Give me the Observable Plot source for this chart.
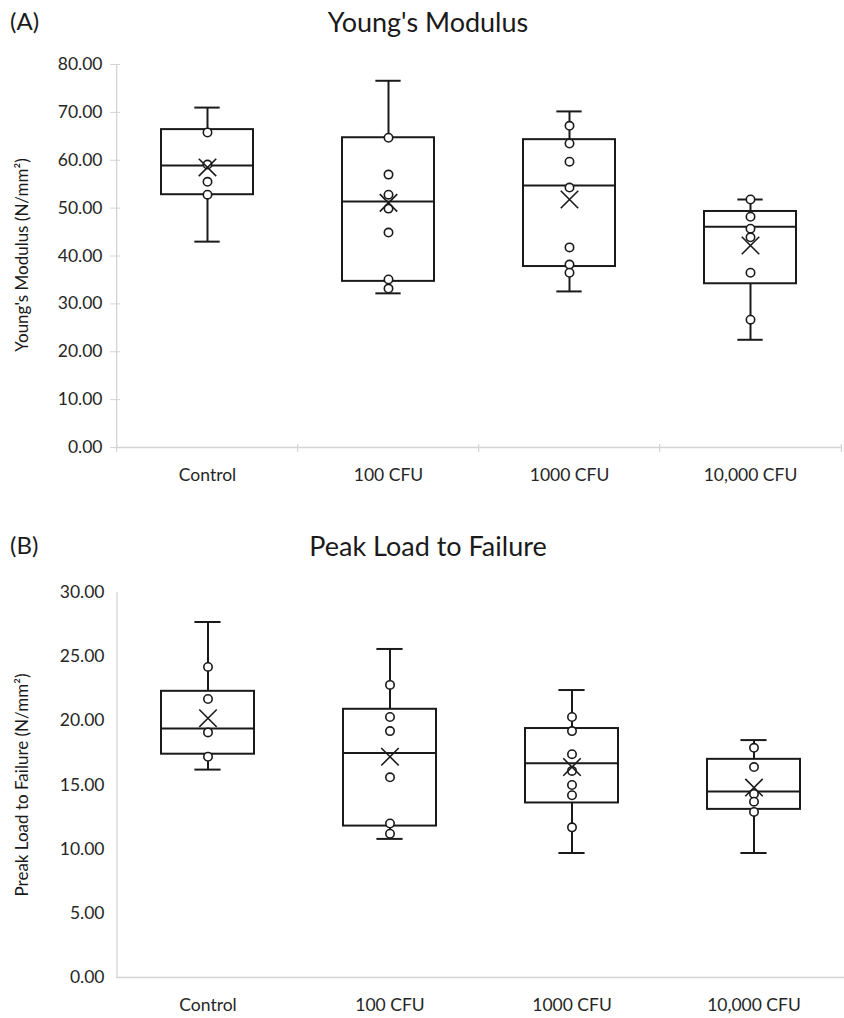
<!DOCTYPE html>
<html>
<head>
<meta charset="utf-8">
<script src="https://cdn.jsdelivr.net/npm/d3@7"></script>
<script src="https://cdn.jsdelivr.net/npm/@observablehq/plot@0.6"></script>
<style>
  html, body { margin: 0; padding: 0; background: #fff; }
  #wrap { position: relative; width: 844px; height: 1018px; overflow: hidden; font-family: Lato, "Open Sans", sans-serif; color: #1a1a1a; }
  .panel { position: absolute; left: 10px; font-size: 24px; }
  .title { position: absolute; left: 0; width: 856px; text-align: center; font-size: 27px; }
  .chart { position: absolute; left: 0; }
</style>
</head>
<body>
<div id="wrap">
  <div class="panel" style="top:6px">(A)</div>
  <div class="title" style="top:5px">Young's Modulus</div>
  <div class="chart" id="chartA" style="top:50px"></div>
  <div class="panel" style="top:530px">(B)</div>
  <div class="title" style="top:529px">Peak Load to Failure</div>
  <div class="chart" id="chartB" style="top:570px"></div>
</div>
<script>
const categories = ["Control", "100 CFU", "1000 CFU", "10,000 CFU"];

// Panel A: Young's Modulus (N/mm²)
const ymLow    = [43.0, 32.2, 32.6, 22.5];
const ymQ1     = [52.8, 34.7, 37.8, 34.2];
const ymMedian = [58.9, 51.4, 54.7, 46.1];
const ymQ3     = [66.4, 64.7, 64.3, 49.3];
const ymHigh   = [71.0, 76.6, 70.2, 51.8];
const ymMean   = [58.5, 51.1, 51.8, 42.2];
const ymPoints = [
  [65.8, 59.1, 55.5, 52.8],
  [64.7, 57.0, 52.8, 49.9, 44.9, 35.1, 33.2],
  [67.2, 63.5, 59.7, 54.3, 41.8, 38.2, 36.5],
  [51.8, 48.2, 45.7, 43.9, 36.5, 26.7]
];
const ymTicks = [0, 10, 20, 30, 40, 50, 60, 70, 80];

// Panel B: Peak load to failure (N/mm²)
const plLow    = [16.2, 10.8, 9.7, 9.7];
const plQ1     = [17.4, 11.8, 13.6, 13.1];
const plMedian = [19.4, 17.5, 16.7, 14.5];
const plQ3     = [22.3, 20.9, 19.4, 17.0];
const plHigh   = [27.7, 25.6, 22.4, 18.5];
const plMean   = [20.2, 17.2, 16.4, 14.8];
const plPoints = [
  [24.2, 21.7, 19.1, 17.2],
  [22.8, 20.3, 19.2, 15.6, 12.0, 11.2],
  [20.3, 19.2, 17.4, 16.1, 15.0, 14.2, 11.7],
  [17.9, 16.4, 14.3, 13.7, 12.9]
];
const plTicks = [0, 5, 10, 15, 20, 25, 30];

const INK = "#1a1a1a";
const GRID = "#d4d4d4";
const fmt = d3.format(".2f");

function boxChart({low, q1, median, q3, high, mean, points, ticks, height, marginTop, marginBottom, marginLeft, marginRight, tickMarks}) {
  const width = 844;
  const n = categories.length;
  const step = (width - marginLeft - marginRight) / n;
  const pad = 0.49;
  const bw = step * (1 - pad);
  const capW = 26;
  const yMax = ticks[ticks.length - 1];
  const pxPerUnit = (height - marginTop - marginBottom) / yMax;
  const boxes = categories.map((c, i) => ({c, low: low[i], q1: q1[i], median: median[i], q3: q3[i], high: high[i], mean: mean[i]}));
  const pts = categories.flatMap((c, i) => points[i].map(v => ({c, v})));
  const first = categories[0], last = categories[n - 1];
  const marks = [
    Plot.ruleY([0], {stroke: GRID, strokeWidth: 1.3}),
    Plot.ruleX([first], {x: d => d, y1: 0, y2: yMax, dx: -step / 2, stroke: GRID, strokeWidth: 1.3}),
  ];
  if (tickMarks) {
    const t = 5 / pxPerUnit;
    marks.push(
      Plot.ruleX(categories, {x: d => d, y1: -t, y2: t * 0.6, dx: -step / 2, stroke: GRID, strokeWidth: 1.2}),
      Plot.ruleX([last], {x: d => d, y1: -t, y2: t * 0.6, dx: step / 2, stroke: GRID, strokeWidth: 1.2}),
      Plot.axisY({ticks, tickSize: 5, tickPadding: 8, tickFormat: fmt, stroke: GRID, label: null}),
      Plot.axisY({ticks, tickSize: -5, tickFormat: () => "", stroke: GRID, label: null})
    );
  } else {
    marks.push(Plot.axisY({ticks, tickSize: 0, tickPadding: 12, tickFormat: fmt, label: null}));
  }
  marks.push(
    Plot.axisX({tickSize: 0, tickPadding: 21, label: null}),
    Plot.ruleX(boxes, {x: "c", y1: "low", y2: "q1", stroke: INK, strokeWidth: 2}),
    Plot.ruleX(boxes, {x: "c", y1: "q3", y2: "high", stroke: INK, strokeWidth: 2}),
    Plot.tickY(boxes, {x: "c", y: "low", stroke: INK, strokeWidth: 2, insetLeft: (bw - capW) / 2, insetRight: (bw - capW) / 2}),
    Plot.tickY(boxes, {x: "c", y: "high", stroke: INK, strokeWidth: 2, insetLeft: (bw - capW) / 2, insetRight: (bw - capW) / 2}),
    Plot.barY(boxes, {x: "c", y1: "q1", y2: "q3", fill: "white", stroke: INK, strokeWidth: 2}),
    Plot.tickY(boxes, {x: "c", y: "median", stroke: INK, strokeWidth: 2}),
    Plot.dot(pts, {x: "c", y: "v", r: 4.2, fill: "white", stroke: INK, strokeWidth: 1.6}),
    Plot.dot(boxes, {x: "c", y: "mean", symbol: "times", r: 8, stroke: INK, strokeWidth: 1.6})
  );
  return Plot.plot({
    width, height, marginTop, marginBottom, marginLeft, marginRight,
    x: {domain: categories, paddingInner: pad, paddingOuter: pad / 2, axis: null},
    y: {domain: [0, yMax], axis: null},
    style: {fontFamily: "Lato, 'Open Sans', sans-serif", fontSize: "17.5px", color: "#262626", background: "white", overflow: "visible"},
    marks
  });
}

function addYLabel(svg, text, x, cy) {
  const ns = "http://www.w3.org/2000/svg";
  const t = document.createElementNS(ns, "text");
  t.setAttribute("transform", `translate(${x},${cy}) rotate(-90)`);
  t.setAttribute("text-anchor", "middle");
  t.setAttribute("font-size", "17");
  t.setAttribute("fill", "#1a1a1a");
  t.setAttribute("font-family", "Lato, 'Open Sans', sans-serif");
  t.textContent = text;
  svg.appendChild(t);
}

const a = boxChart({low: ymLow, q1: ymQ1, median: ymMedian, q3: ymQ3, high: ymHigh, mean: ymMean, points: ymPoints,
  ticks: ymTicks, height: 455, marginTop: 14, marginBottom: 58, marginLeft: 115, marginRight: 2, tickMarks: true});
addYLabel(a, "Young's Modulus (N/mm²)", 28, 205);
document.getElementById("chartA").appendChild(a);

const b = boxChart({low: plLow, q1: plQ1, median: plMedian, q3: plQ3, high: plHigh, mean: plMean, points: plPoints,
  ticks: plTicks, height: 448, marginTop: 22, marginBottom: 41, marginLeft: 116, marginRight: 0, tickMarks: false});
addYLabel(b, "Preak Load to Failure (N/mm²)", 28, 215);
document.getElementById("chartB").appendChild(b);
</script>
</body>
</html>
